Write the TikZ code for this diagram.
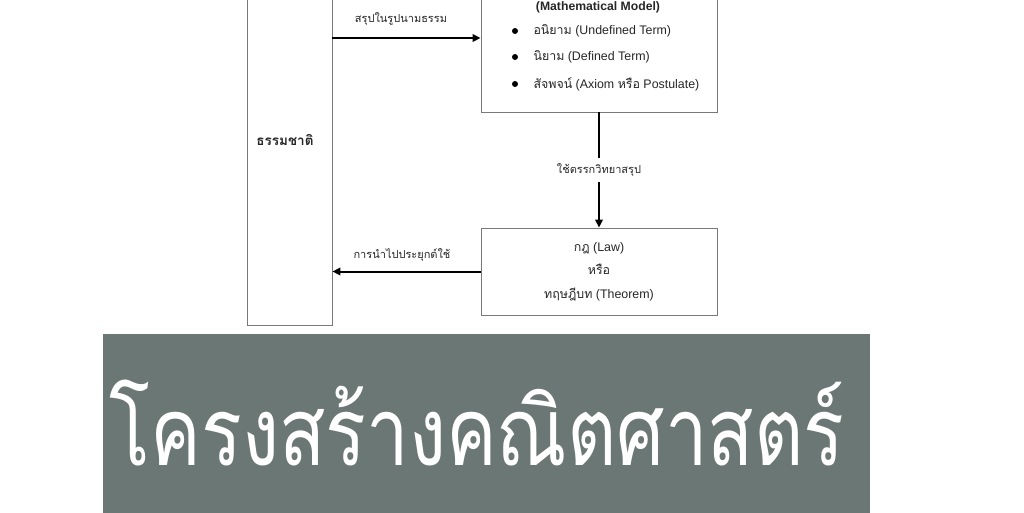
\documentclass[tikz,border=0pt]{standalone}
\usepackage{fontspec}
\setmainfont{Liberation Sans}
\newfontfamily\thai[Script=Thai]{Loma}
\usetikzlibrary{arrows.meta}
\definecolor{boxgray}{RGB}{120,120,120}
\definecolor{bannergray}{RGB}{107,119,116}
\tikzset{
  box/.style={draw=boxgray, line width=0.9pt, inner sep=0pt},
  flow/.style={line width=2pt, -{Triangle[length=8pt,width=7.5pt]}},
  lbl/.style={font=\thai\fontsize{11}{13}\selectfont, text=black!85},
  txt/.style={font=\fontsize{12.4}{14}\selectfont, text=black!85},
  bullet/.style={circle, fill=black, inner sep=0pt, minimum size=6pt},
}
\begin{document}
\begin{tikzpicture}[x=1pt,y=-1pt]
\useasboundingbox (0,0) rectangle (1024,512);
\node[box, minimum width=85pt, minimum height=370pt] (nature) at (289.5,140) {};
\node[font=\thai\bfseries\fontsize{13.5}{15}\selectfont, text=black!85] (naturelbl) at (285,140) {ธรรมชาติ};
\node[box, minimum width=236pt, minimum height=152pt] (model) at (599,36) {};
\node[txt, font=\bfseries\fontsize{12.2}{14}\selectfont] (modeltitle) at (598,7) {(Mathematical Model)};
\node[bullet] (b1) at (515,31) {};
\node[bullet] (b2) at (515,57) {};
\node[bullet] (b3) at (515,84) {};
\node[txt, anchor=west] (undef) at (530,31) {{\thai อนิยาม} (Undefined Term)};
\node[txt, anchor=west] (def) at (530,57) {{\thai นิยาม} (Defined Term)};
\node[txt, anchor=west] (axiom) at (530,84) {{\thai สัจพจน์} (Axiom {\thai หรือ} Postulate)};
\node[box, txt, minimum width=236pt, minimum height=87pt, align=center, font=\fontsize{12.4}{23.5}\selectfont] (law) at (599,271.5) {{\thai กฎ} (Law)\\{\thai หรือ}\\{\thai ทฤษฎีบท} (Theorem)};
\coordinate (abstract) at (332,38);
\draw[flow] (nature.east |- abstract) -- (model.west |- abstract);
\node[lbl] (abstractlbl) at (401,19) {สรุปในรูปนามธรรม};
\draw[flow] (model.south) -- (law.north) node[midway, fill=white, lbl, inner ysep=6pt] (logiclbl) {ใช้ตรรกวิทยาสรุป};
\draw[flow] (law.west) -- (law.west -| nature.east);
\node[lbl] (applylbl) at (402,255) {การนำไปประยุกต์ใช้};
\node[fill=bannergray, minimum width=767pt, minimum height=180pt, inner sep=0pt] (banner) at (486.5,424) {};
\node[anchor=base, text=white, font=\thai\fontsize{95}{100}\selectfont] (title) at (477,465) {\scalebox{0.8}[1]{โครงสร้างคณิตศาสตร์}};
\end{tikzpicture}
\end{document}
